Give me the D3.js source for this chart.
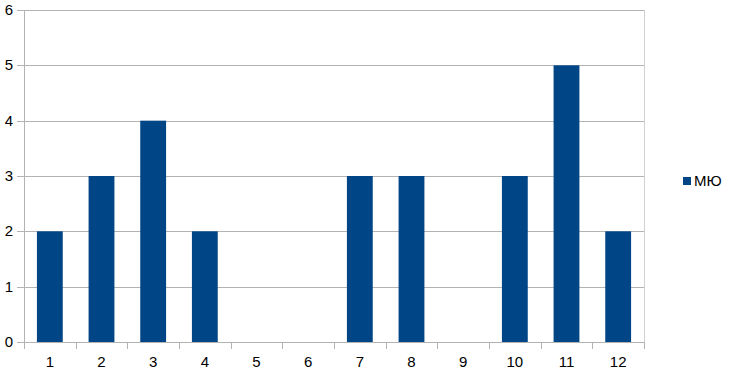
<!DOCTYPE html>
<html>
<head>
<meta charset="utf-8">
<script src="https://cdn.jsdelivr.net/npm/d3@7"></script>
<style>
  body { margin: 0; background: #fff; }
  text { font-family: "Liberation Sans", Arial, sans-serif; }
</style>
</head>
<body>
<script>
  const categories = ['1', '2', '3', '4', '5', '6', '7', '8', '9', '10', '11', '12'];
  const values = [2, 3, 4, 2, 0, 0, 3, 3, 0, 3, 5, 2];
  const seriesName = 'МЮ';
  const yTicks = [0, 1, 2, 3, 4, 5, 6];

  const width = 730;
  const height = 377;
  const margin = { top: 10, right: 86, bottom: 35, left: 24 };

  const svg = d3.select('body')
    .append('svg')
    .attr('width', width)
    .attr('height', height);

  const x = d3.scaleBand()
    .domain(categories)
    .range([margin.left, width - margin.right])
    .paddingInner(0.5)
    .paddingOuter(0.25);

  const xBand = d3.scaleBand()
    .domain(categories)
    .range([margin.left, width - margin.right]);

  const y = d3.scaleLinear()
    .domain([0, 6])
    .range([height - margin.bottom, margin.top]);

  // grid
  svg.append('g')
    .selectAll('line')
    .data(yTicks)
    .join('line')
    .attr('x1', margin.left - 7)
    .attr('x2', width - margin.right)
    .attr('y1', (d) => Math.round(y(d)) + 0.5)
    .attr('y2', (d) => Math.round(y(d)) + 0.5)
    .attr('stroke', '#b3b3b3');

  // right border
  svg.append('line')
    .attr('x1', width - margin.right + 0.5)
    .attr('x2', width - margin.right + 0.5)
    .attr('y1', margin.top)
    .attr('y2', height - margin.bottom)
    .attr('stroke', '#d0d0d0');

  // bars
  svg.append('g')
    .selectAll('rect')
    .data(values)
    .join('rect')
    .attr('x', (d, i) => x(categories[i]))
    .attr('y', (d) => y(d))
    .attr('width', x.bandwidth())
    .attr('height', (d) => y(0) - y(d))
    .attr('fill', '#004586');

  // left axis line
  svg.append('line')
    .attr('x1', margin.left + 0.5)
    .attr('x2', margin.left + 0.5)
    .attr('y1', margin.top)
    .attr('y2', height - margin.bottom)
    .attr('stroke', '#b3b3b3');

  // x ticks between categories
  const edges = categories.map((c) => xBand(c)).concat([width - margin.right]);
  svg.append('g')
    .selectAll('line')
    .data(edges)
    .join('line')
    .attr('x1', (d) => Math.round(d) + 0.5)
    .attr('x2', (d) => Math.round(d) + 0.5)
    .attr('y1', y(0))
    .attr('y2', y(0) + 7)
    .attr('stroke', '#b3b3b3');

  // y labels
  svg.append('g')
    .selectAll('text')
    .data(yTicks)
    .join('text')
    .attr('x', 13)
    .attr('y', (d) => y(d) + 5)
    .attr('text-anchor', 'end')
    .attr('font-size', 15)
    .attr('fill', '#000')
    .text((d) => d);

  // x labels
  svg.append('g')
    .selectAll('text')
    .data(categories)
    .join('text')
    .attr('x', (d) => xBand(d) + xBand.bandwidth() / 2)
    .attr('y', y(0) + 25)
    .attr('text-anchor', 'middle')
    .attr('font-size', 15)
    .attr('fill', '#000')
    .text((d) => d);

  // legend
  const legend = svg.append('g').attr('transform', 'translate(683,177)');
  legend.append('rect')
    .attr('width', 8)
    .attr('height', 8)
    .attr('fill', '#004586');
  legend.append('text')
    .attr('x', 11)
    .attr('y', 9)
    .attr('font-size', 15)
    .attr('fill', '#000')
    .text(seriesName);
</script>
</body>
</html>
